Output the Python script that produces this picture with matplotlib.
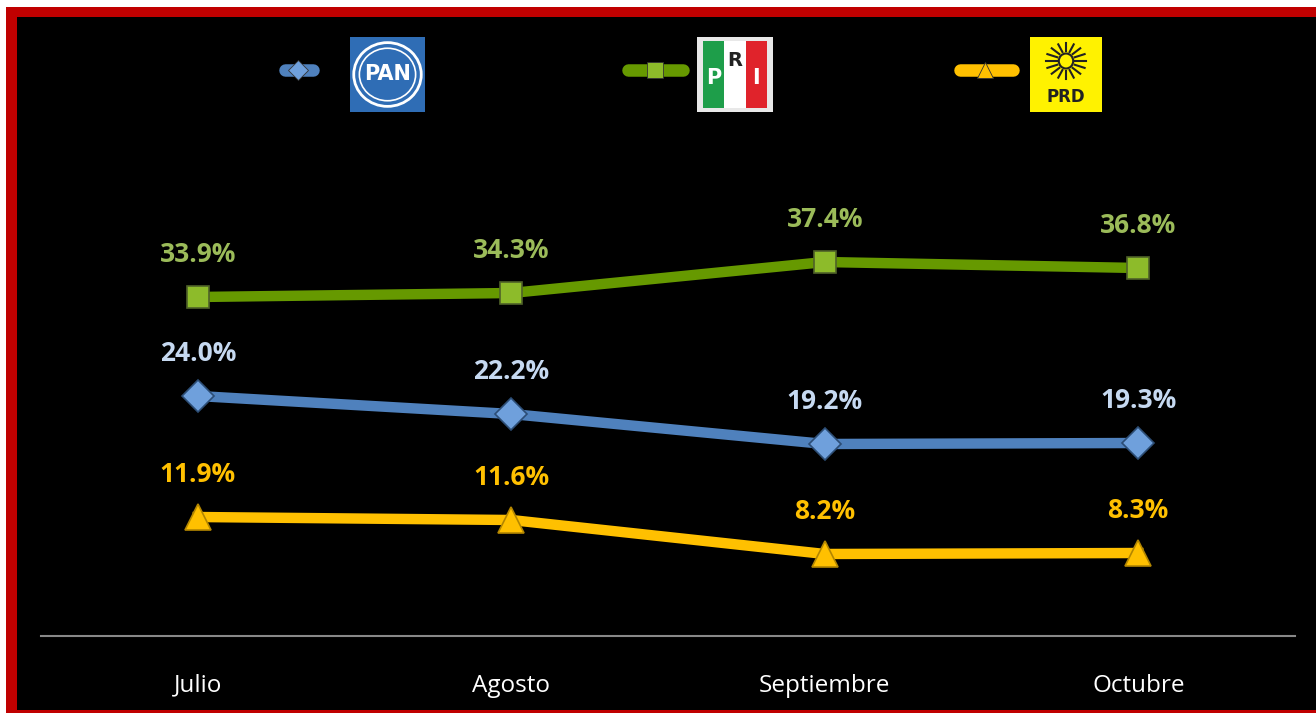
import matplotlib.pyplot as plt
import matplotlib.patches as patches
from matplotlib.lines import Line2D
import numpy as np

months = ["Julio", "Agosto", "Septiembre", "Octubre"]
pan = [24.0, 22.2, 19.2, 19.3]
pri = [33.9, 34.3, 37.4, 36.8]
prd = [11.9, 11.6, 8.2, 8.3]

W, H = 1316, 713
fig = plt.figure(figsize=(W / 100, H / 100), dpi=100)
fig.patch.set_facecolor("white")

# red frame + black panel (right edge runs off the image)
fig.add_artist(patches.Rectangle((6 / W, 0), 1.0, (H - 7) / H, transform=fig.transFigure,
                                 facecolor="#C00000", edgecolor="none", zorder=0))
fig.add_artist(patches.Rectangle((17 / W, 3 / H), 1.0, (H - 20) / H, transform=fig.transFigure,
                                 facecolor="black", edgecolor="none", zorder=0))

ax = fig.add_axes([41 / W, (H - 636) / H, 1254 / W, 500 / H])
ax.set_facecolor("none")
x = np.arange(len(months))

series = [
    (pan, "#4F81BD", "D", 16, "#2C4D75", "#C6D9F1", "#6FA0DC"),
    (pri, "#669900", "s", 16, "#4F6228", "#9BBB59", "#8DBB2A"),
    (prd, "#FFC000", "^", 19, "#B38600", "#FFC000", "#FFC000"),
]
for vals, col, mk, ms, edge, lab_col, face in series:
    ax.plot(x, vals, color=col, lw=7.5, marker=mk, ms=ms, mfc=face, mec=edge, mew=1.2, zorder=3)
    for xi, v in zip(x, vals):
        ax.annotate(f"{v:.1f}%", (xi, v), xytext=(0, 21), textcoords="offset points",
                    ha="center", va="bottom", color=lab_col, fontsize=19,
                    fontweight="bold", family="Open Sans")

ax.set_xlim(-0.5, len(months) - 0.5)
ax.set_ylim(0, 50)
ax.set_xticks(x)
ax.set_xticklabels(months, color="white", fontsize=17.5, family="Open Sans")
ax.tick_params(axis="x", length=0, pad=27)
ax.set_yticks([])
for s in ["top", "left", "right"]:
    ax.spines[s].set_visible(False)
ax.spines["bottom"].set_color("#888888")
ax.spines["bottom"].set_linewidth(1.5)

# legend: line handles + party logos
def fx(px):
    return px / W

def fy(py):
    return 1 - py / H

handles = [(285, 313, 298, "#4F81BD", "D", 10, "#6FA0DC"),
           (628, 683, 655, "#669900", "s", 11, "#8DBB2A"),
           (960, 1013, 985, "#FFC000", "^", 12, "#FFC000")]
for x0, x1, xm, col, mk, ms, face in handles:
    fig.add_artist(Line2D([fx(x0), fx(x1)], [fy(70), fy(70)], transform=fig.transFigure,
                          color=col, lw=9, solid_capstyle="round"))
    fig.add_artist(Line2D([fx(xm)], [fy(70)], transform=fig.transFigure, marker=mk,
                          ms=ms, mfc=face, mec="#333333", mew=0.6, ls="none"))

# PAN logo
lx = fig.add_axes([fx(350), fy(112), 75 / W, 75 / H])
lx.set_xlim(0, 1); lx.set_ylim(0, 1); lx.axis("off")
lx.add_patch(patches.Rectangle((0, 0), 1, 1, facecolor="#2F6DB5", edgecolor="none"))
lx.add_patch(patches.Ellipse((0.5, 0.5), 0.9, 0.85, facecolor="none", edgecolor="white", lw=2))
lx.add_patch(patches.Ellipse((0.5, 0.5), 0.75, 0.7, facecolor="#2F6DB5", edgecolor="white", lw=1.2))
lx.text(0.5, 0.5, "PAN", color="white", fontsize=15, fontweight="bold", ha="center", va="center",
        family="DejaVu Sans Condensed")

# PRI logo
lx = fig.add_axes([fx(697), fy(112), 76 / W, 75 / H])
lx.set_xlim(0, 1); lx.set_ylim(0, 1); lx.axis("off")
lx.add_patch(patches.Rectangle((0, 0), 1, 1, facecolor="#E8E8E8", edgecolor="none"))
lx.add_patch(patches.Rectangle((0.08, 0.05), 0.27, 0.9, facecolor="#1E9E4A", edgecolor="none"))
lx.add_patch(patches.Rectangle((0.35, 0.05), 0.3, 0.9, facecolor="white", edgecolor="none"))
lx.add_patch(patches.Rectangle((0.65, 0.05), 0.27, 0.9, facecolor="#E0232B", edgecolor="none"))
lx.text(0.22, 0.45, "P", color="white", fontsize=15, fontweight="bold", ha="center", va="center")
lx.text(0.5, 0.68, "R", color="#222222", fontsize=14, fontweight="bold", ha="center", va="center")
lx.text(0.78, 0.45, "I", color="white", fontsize=15, fontweight="bold", ha="center", va="center")

# PRD logo
lx = fig.add_axes([fx(1030), fy(112), 72 / W, 75 / H])
lx.set_xlim(0, 1); lx.set_ylim(0, 1); lx.axis("off")
lx.add_patch(patches.Rectangle((0, 0), 1, 1, facecolor="#FFF200", edgecolor="none"))
ang = np.linspace(0, 2 * np.pi, 17)[:-1]
for a in ang:
    lx.plot([0.5 + 0.13 * np.cos(a), 0.5 + 0.28 * np.cos(a)],
            [0.68 + 0.13 * np.sin(a), 0.68 + 0.24 * np.sin(a)], color="#222222", lw=1.5)
lx.add_patch(patches.Circle((0.5, 0.68), 0.1, facecolor="#FFF200", edgecolor="#222222", lw=1.5))
lx.text(0.5, 0.2, "PRD", color="#222222", fontsize=12, fontweight="bold", ha="center", va="center")

fig.savefig("out.png", dpi=100, facecolor=fig.get_facecolor())
